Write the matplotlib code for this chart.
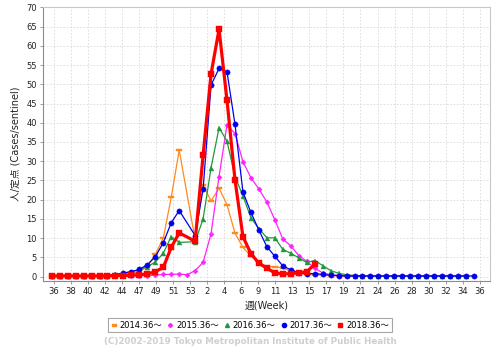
import numpy as np
import matplotlib
matplotlib.use("Agg")
import matplotlib.pyplot as plt
from matplotlib.lines import Line2D

plt.rcParams['font.family'] = ['DejaVu Sans', 'Noto Sans CJK JP']

nan = np.nan
# weeks of the season: 36..53, 1..36
weeks = list(range(36, 54)) + list(range(1, 37))

tick_labels = ["36", "38", "40", "42", "44", "47", "49", "51", "53", "2", "4", "6", "9",
               "11", "13", "15", "17", "19", "21", "24", "26", "28", "30", "32", "34", "36"]

s2014 = [0.1, 0.1, 0.1, 0.1, 0.1, 0.1, 0.2, 0.2, 0.3, 0.5,
         0.8, 1.3, 2.6, 5.8, 10.0, 20.6, 32.9, nan, 9.6, 23.8,
         19.7, 23.0, 18.7, 11.3, 7.6, 5.4, 3.8, 2.6, 2.6, 2.3,
         1.4, 0.9, 0.6, 0.5, 0.4, 0.3, 0.2, 0.1, 0.1, 0.1,
         0.1, 0.1, 0.1, 0.1, 0.1, 0.1, 0.1, 0.1, 0.1, 0.1,
         0.1, 0.1, 0.1, nan]
s2015 = [0.1, 0.1, 0.1, 0.1, 0.1, 0.1, 0.1, 0.1, 0.1, 0.2,
         0.2, 0.3, 0.3, 0.4, 0.6, 0.6, 0.7, 0.5, 1.6, 3.7,
         11.2, 26.0, 39.5, 37.2, 29.9, 25.7, 22.8, 19.4, 14.8, 9.8,
         8.0, 5.5, 4.0, 2.2, 1.0, 0.5, 0.3, 0.2, 0.1, 0.1,
         0.1, 0.1, 0.1, 0.1, 0.1, 0.1, 0.1, 0.1, 0.1, 0.1,
         0.1, 0.1, 0.1, nan]
s2016 = [0.1, 0.1, 0.1, 0.1, 0.1, 0.1, 0.2, 0.3, 0.6, 1.0,
         1.3, 1.8, 2.6, 3.8, 6.1, 10.4, 8.9, nan, 9.1, 15.0,
         28.3, 38.7, 35.2, 26.0, 21.0, 15.3, 12.5, 10.1, 10.1, 7.1,
         6.1, 4.9, 3.7, 4.2, 2.9, 1.6, 0.9, 0.5, 0.3, 0.2,
         0.2, 0.2, 0.2, 0.2, 0.2, 0.2, 0.2, 0.2, 0.2, 0.2,
         0.2, 0.2, 0.2, nan]
s2017 = [0.1, 0.1, 0.1, 0.1, 0.1, 0.2, 0.2, 0.3, 0.5, 0.9,
         1.3, 1.9, 3.1, 5.2, 8.8, 14.0, 17.2, nan, 10.7, 22.8,
         49.8, 54.1, 53.2, 39.6, 22.0, 16.7, 12.1, 7.8, 5.3, 2.8,
         1.8, 1.0, 0.8, 0.8, 0.6, 0.4, 0.3, 0.2, 0.2, 0.2,
         0.2, 0.2, 0.2, 0.2, 0.2, 0.2, 0.2, 0.2, 0.2, 0.2,
         0.2, 0.2, 0.2, 0.2]
s2018 = [0.2, 0.2, 0.2, 0.2, 0.2, 0.2, 0.2, 0.2, 0.3, 0.3,
         0.4, 0.5, 0.7, 1.3, 2.4, 7.6, 11.4, nan, 9.2, 31.6,
         52.7, 64.3, 45.8, 25.2, 10.4, 6.0, 3.5, 2.2, 1.0, 0.7,
         0.8, 1.0, 1.3, 3.2, nan, nan, nan, nan, nan, nan,
         nan, nan, nan, nan, nan, nan, nan, nan, nan, nan,
         nan, nan, nan, nan]

series_names = ["2014.36～", "2015.36～", "2016.36～", "2017.36～", "2018.36～"]
series_vals = [s2014, s2015, s2016, s2017, s2018]

hrect = [(-1, -0.45), (1, -0.45), (1, 0.45), (-1, 0.45), (-1, -0.45)]
styles = [
    dict(color='#ff8a1e', marker=hrect, ms=4.2, lw=0.9),
    dict(color='#ff22ff', marker='D', ms=2.6, lw=0.9),
    dict(color='#1e9a3c', marker='^', ms=3.6, lw=0.9),
    dict(color='#0000ee', marker='o', ms=3.8, lw=0.9),
    dict(color='#ff0000', marker='s', ms=3.9, lw=2.3),
]

fig = plt.figure(figsize=(5.0, 3.52), dpi=100)
ax = fig.add_axes([43 / 500, 1 - 280.7 / 352, (490 - 43) / 500, (280.7 - 7.3) / 352])

x = np.arange(len(weeks))
for vals, st in zip(series_vals, styles):
    v = np.array(vals, dtype=float)
    m = ~np.isnan(v)
    ax.plot(x[m], v[m], color=st['color'], lw=st['lw'], marker=st['marker'],
            ms=st['ms'], mec=st['color'], mfc=st['color'], mew=0.3)

ax.set_xlim(-1.09, 55.0)
ax.set_ylim(-1.04, 70)
ax.set_yticks(np.arange(0, 71, 5))
ax.set_xticks(np.linspace(0.3, 53.7, len(tick_labels)))
ax.set_xticklabels(tick_labels)

ax.grid(True, color='#d9d9d9', linestyle=(0, (2, 2)), linewidth=0.6)
ax.set_axisbelow(True)
for sp in ['left', 'bottom']:
    ax.spines[sp].set_color('#8c8c8c')
    ax.spines[sp].set_linewidth(0.8)
for sp in ['top', 'right']:
    ax.spines[sp].set_color('#c8c8c8')
    ax.spines[sp].set_linewidth(0.8)
ax.tick_params(axis='both', length=2.5, width=0.6, color='#8c8c8c', labelsize=6, pad=2,
               labelcolor='#222222')

ax.set_xlabel("週(Week)", fontsize=7, labelpad=3, color='#222222')
ax.set_ylabel("人/定点 (Cases/sentinel)", fontsize=7, labelpad=4, color='#222222')

handles = [Line2D([], [], linestyle='none', marker=st['marker'], ms=st['ms'] * 0.8,
                  color=st['color'], mec=st['color']) for st in styles]
leg = fig.legend(handles, series_names, loc='center', bbox_to_anchor=(0.5, 1 - 325 / 352),
                 ncol=5, fontsize=6, frameon=True, fancybox=False, edgecolor='#909090',
                 handlelength=0.7, handletextpad=0.35, columnspacing=0.6,
                 borderpad=0.35, borderaxespad=0)
leg.get_frame().set_linewidth(0.8)

fig.text(0.5, 1 - 342 / 352, "(C)2002-2019 Tokyo Metropolitan Institute of Public Health",
         ha='center', va='center', fontsize=6.3, fontweight='bold', color='#cfcfcf')

fig.savefig("out.png", dpi=100)
